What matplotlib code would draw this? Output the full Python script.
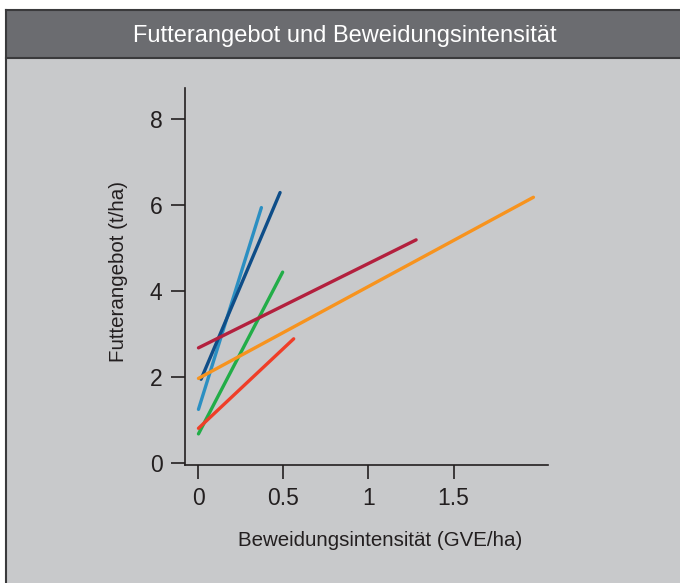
import matplotlib
matplotlib.use("Agg")
import matplotlib.pyplot as plt
from matplotlib.patches import Rectangle

# Data (start/end of each regression line)
series_names = ["hellblau", "dunkelblau", "gruen", "rot", "weinrot", "orange"]
x_start = [0.00, 0.015, 0.00, 0.00, 0.00, 0.00]
x_end = [0.37, 0.48, 0.495, 0.56, 1.28, 1.97]
y_start = [1.24, 1.94, 0.67, 0.80, 2.67, 1.96]
y_end = [5.93, 6.28, 4.43, 2.88, 5.18, 6.17]
colors = ["#2b8fc2", "#0e4d88", "#22ad48", "#ef3e28", "#b3203e", "#f7931e"]
xticks = [0, 0.5, 1, 1.5]
xticklabels = ["0", "0.5", "1", "1.5"]
yticks = [0, 2, 4, 6, 8]

title = "Futterangebot und Beweidungsintensität"
xlabel = "Beweidungsintensität (GVE/ha)"
ylabel = "Futterangebot (t/ha)"

plt.rcParams['font.family'] = ['Liberation Sans Narrow', 'Liberation Sans', 'DejaVu Sans']

W, H = 680, 583
fig = plt.figure(figsize=(W / 100, H / 100), dpi=100)
fig.patch.set_facecolor("white")

def fx(px):
    return px / W

def fy(py):
    return 1 - py / H

# panel background
fig.patches.append(Rectangle((fx(6), 0), 1 - fx(6), fy(58), transform=fig.transFigure,
                             facecolor="#c8c9cb", edgecolor="none", zorder=-2))
# title bar
fig.patches.append(Rectangle((fx(6), fy(58)), 1 - fx(6), fy(10) - fy(58), transform=fig.transFigure,
                             facecolor="#6b6c70", edgecolor="none", zorder=-2))
# border lines
fig.add_artist(plt.Line2D([fx(6), fx(6)], [0, fy(10)], transform=fig.transFigure, color="#3a3a3c", lw=1.5, zorder=-1))
fig.add_artist(plt.Line2D([fx(6), 1], [fy(10), fy(10)], transform=fig.transFigure, color="#3a3a3c", lw=1.5, zorder=-1))
fig.add_artist(plt.Line2D([fx(6), 1], [fy(58), fy(58)], transform=fig.transFigure, color="#3a3a3c", lw=1.5, zorder=-1))

fig.text(fx(345), fy(36), title, color="white", fontsize=17, ha="center", va="center",
         fontweight="normal")

left, right, bottom, top = 184.7, 547.7, 465, 88
ax = fig.add_axes([fx(left), fy(bottom), fx(right - left), fy(top) - fy(bottom)])
ax.set_zorder(5)
ax.set_facecolor("none")

for xs, xe, ys, ye, c in zip(x_start, x_end, y_start, y_end, colors):
    ax.plot([xs, xe], [ys, ye], color=c, lw=2.4, solid_capstyle="round")

ax.set_xlim(-0.081, 2.054)
ax.set_ylim(-0.053, 8.71)
ax.set_xticks(xticks)
ax.set_xticklabels(xticklabels)
ax.set_yticks(yticks)
for s in ["top", "right"]:
    ax.spines[s].set_visible(False)
for s in ["left", "bottom"]:
    ax.spines[s].set_color("#231f20")
    ax.spines[s].set_linewidth(1.2)
ax.tick_params(axis="both", length=10, width=1.2, color="#231f20", labelsize=16.5, labelcolor="#231f20")
ax.tick_params(axis="y", pad=6)
ax.tick_params(axis="x", pad=6)

ax.set_xlabel(xlabel, fontsize=14.8, color="#231f20", va="center", ha="center")
ax.xaxis.set_label_coords((380.5 - left) / (right - left), (bottom - 540) / (bottom - top))
ax.set_ylabel(ylabel, fontsize=14.8, color="#231f20", va="center", ha="center")
ax.yaxis.set_label_coords((118 - left) / (right - left), (bottom - 271) / (bottom - top))

fig.savefig("out.png", dpi=100)
